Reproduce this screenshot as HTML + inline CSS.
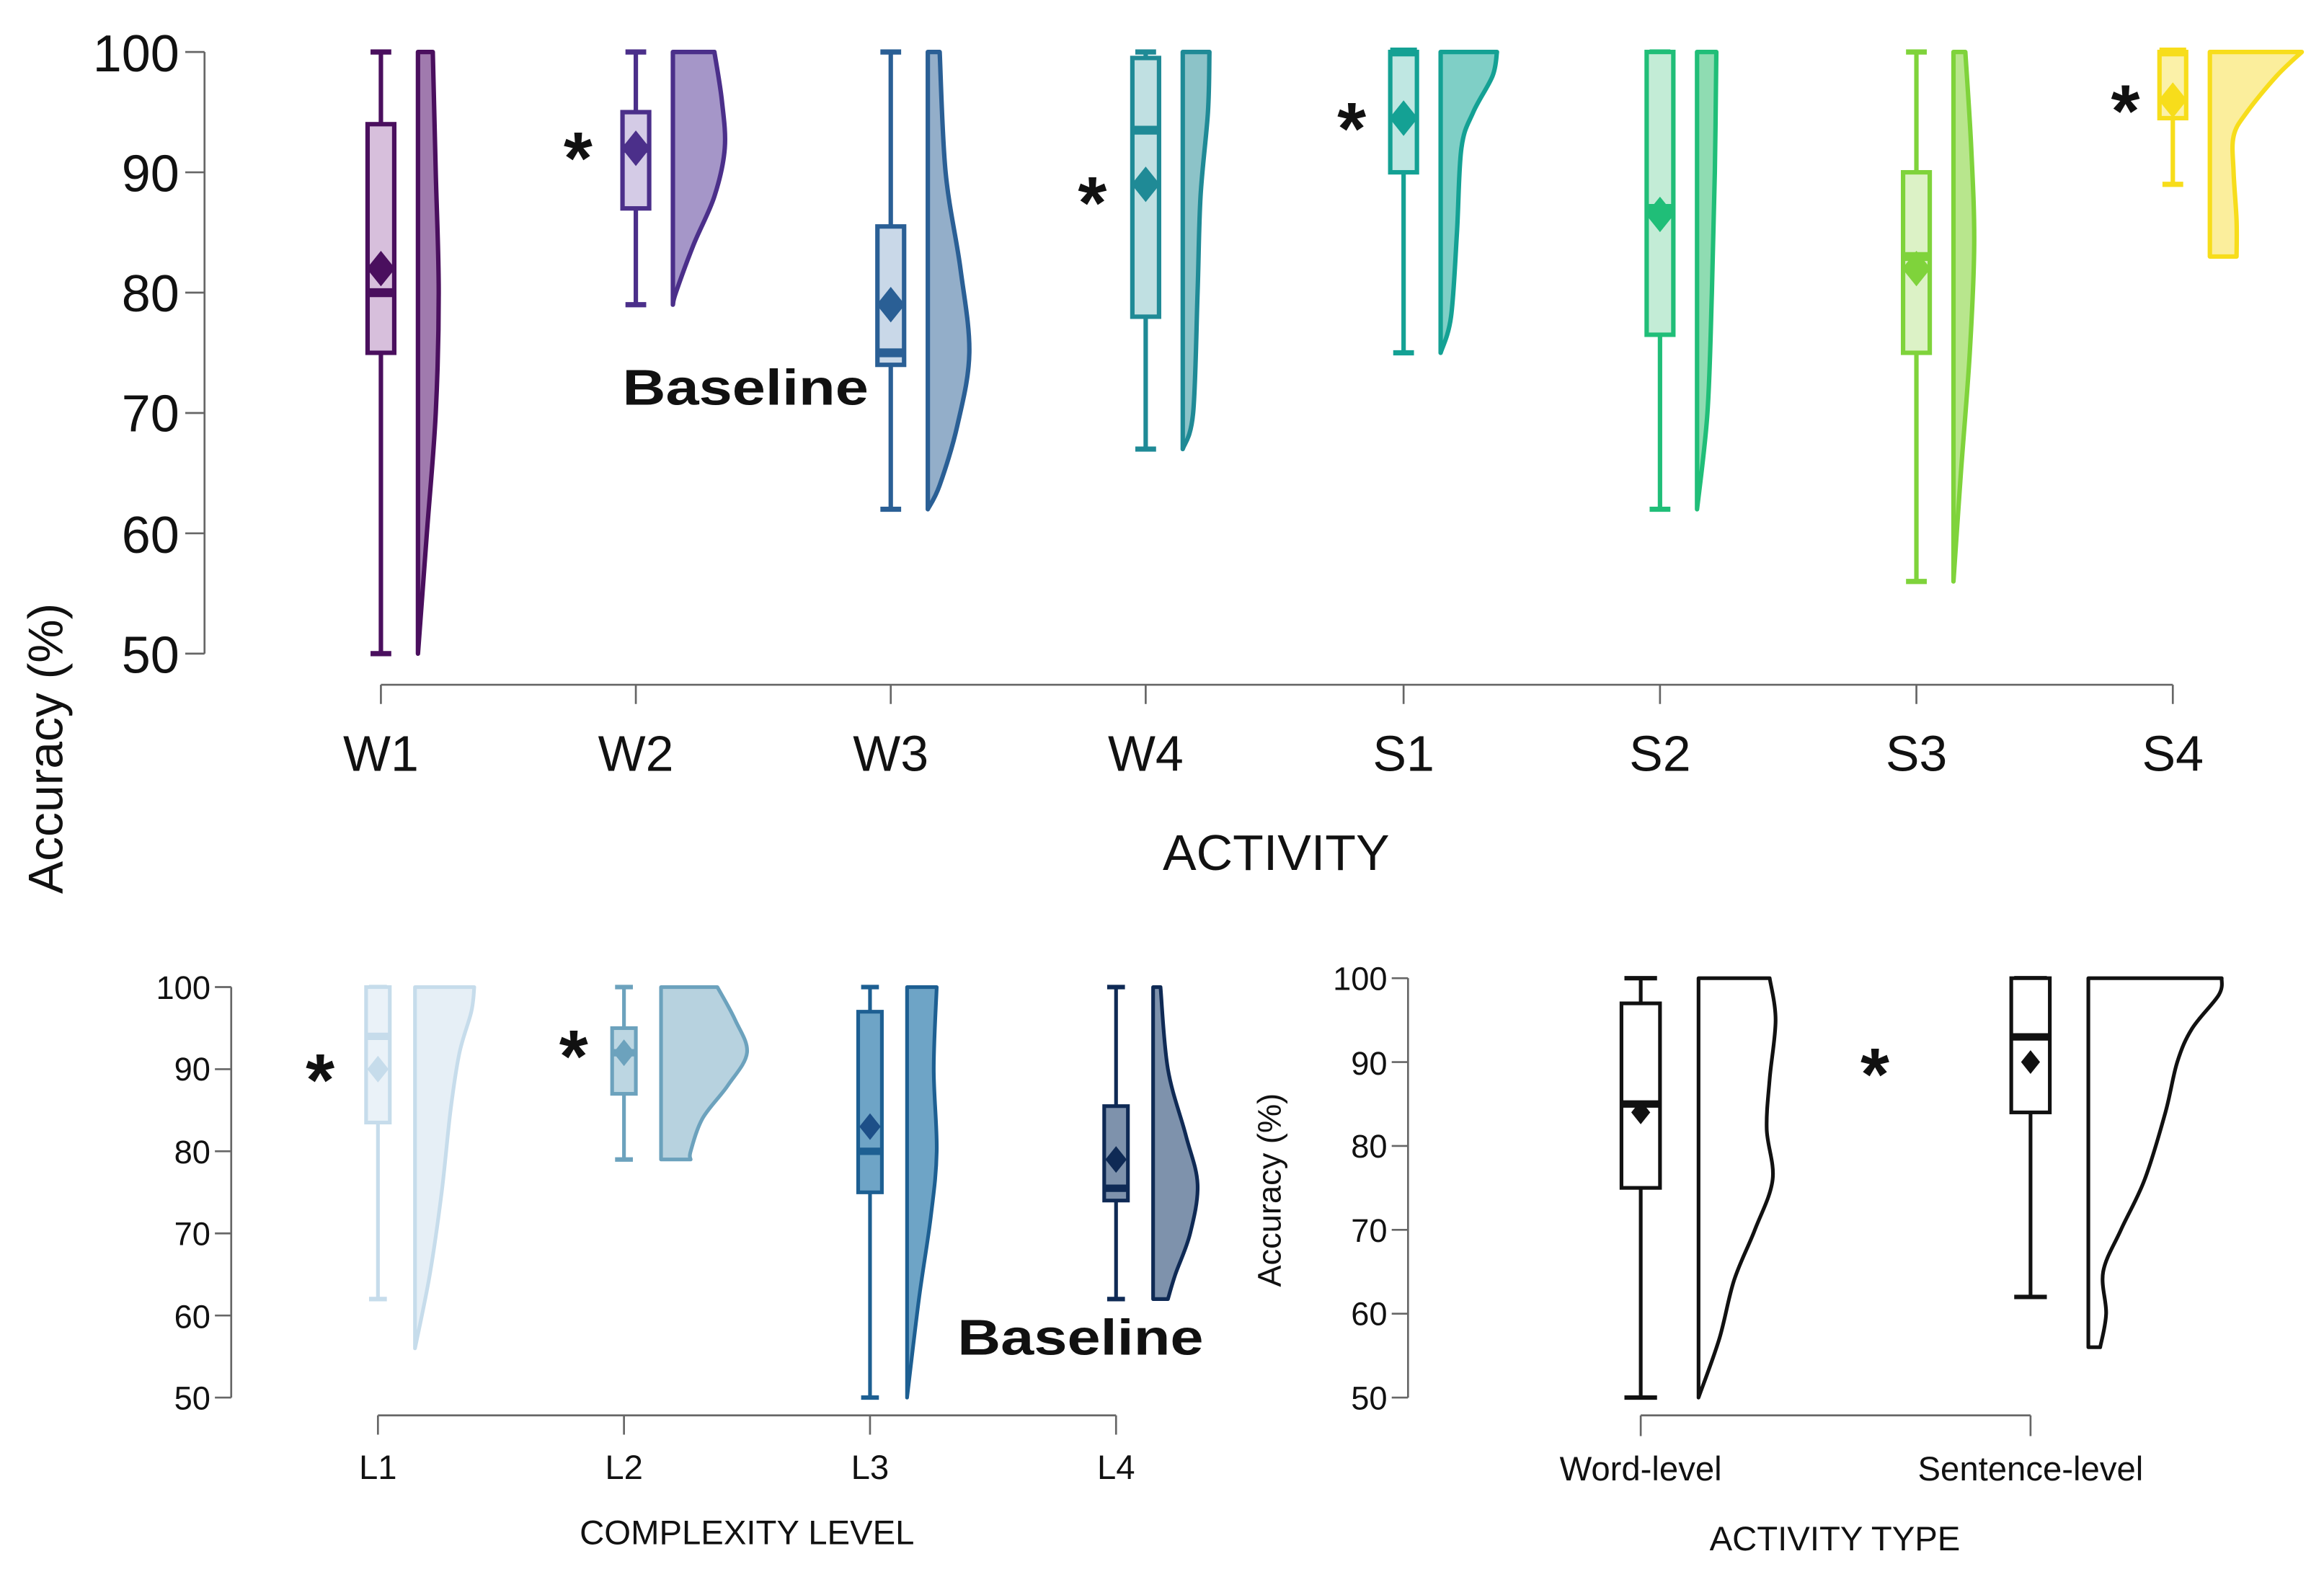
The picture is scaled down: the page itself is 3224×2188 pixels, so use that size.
<!DOCTYPE html>
<html><head><meta charset="utf-8"><style>
html,body{margin:0;padding:0;background:#fff;}
svg{display:block;}
text{font-family:"Liberation Sans",Arial,sans-serif;fill:#111;}
</style></head><body>
<svg id="s" width="3224" height="2188" viewBox="0 0 1568 1064" xmlns="http://www.w3.org/2000/svg">
<rect width="1568" height="1064" fill="#fff"/>
<g id="g"></g>
<g stroke="#666" stroke-width="1.3" fill="none">
<path d="M138 35V441"/>
<path d="M125 35H138M125 116.2H138M125 197.4H138M125 278.6H138M125 359.8H138M125 441H138"/>
<path d="M257 462H1466M257 462V475M429 462V475M601 462V475M773 462V475M947 462V475M1120 462V475M1293 462V475M1466 462V475"/>
<path d="M156 666V943M145 666H156M145 721.4H156M145 776.8H156M145 832.2H156M145 887.6H156M145 943H156"/>
<path d="M255 955H753M255 955V968M421 955V968M587 955V968M753 955V968"/>
<path d="M950 660V943M939 660H950M939 716.6H950M939 773.2H950M939 829.8H950M939 886.4H950M939 943H950"/>
<path d="M1107 955H1370M1107 955V969M1370 955V969"/>
</g>
<g font-size="35" text-anchor="end">
<text x="121" y="48">100</text><text x="121" y="129">90</text><text x="121" y="210">80</text>
<text x="121" y="291">70</text><text x="121" y="373">60</text><text x="121" y="454">50</text>
</g>
<g font-size="34" text-anchor="middle">
<text x="257" y="520">W1</text><text x="429" y="520">W2</text><text x="601" y="520">W3</text><text x="773" y="520">W4</text>
<text x="947" y="520">S1</text><text x="1120" y="520">S2</text><text x="1293" y="520">S3</text><text x="1466" y="520">S4</text>
<text x="861" y="587">ACTIVITY</text>
</g>
<text font-size="33" text-anchor="middle" transform="translate(42 505) rotate(-90)">Accuracy (%)</text>
<g font-size="22" text-anchor="end">
<text x="142" y="674">100</text><text x="142" y="729">90</text><text x="142" y="785">80</text>
<text x="142" y="840">70</text><text x="142" y="896">60</text><text x="142" y="951">50</text>
</g>
<g font-size="23" text-anchor="middle">
<text x="255" y="998">L1</text><text x="421" y="998">L2</text><text x="587" y="998">L3</text><text x="753" y="998">L4</text>
<text x="504" y="1042">COMPLEXITY LEVEL</text>
</g>
<g font-size="22" text-anchor="end">
<text x="936" y="668">100</text><text x="936" y="725">90</text><text x="936" y="781">80</text>
<text x="936" y="838">70</text><text x="936" y="894">60</text><text x="936" y="951">50</text>
</g>
<g font-size="23" text-anchor="middle">
<text x="1107" y="999">Word-level</text><text x="1370" y="999">Sentence-level</text>
<text x="1238" y="1046">ACTIVITY TYPE</text>
</g>
<text font-size="22" text-anchor="middle" transform="translate(864 803) rotate(-90)">Accuracy (%)</text>
<g font-weight="bold">
<text x="420" y="273" font-size="34" textLength="166" lengthAdjust="spacingAndGlyphs">Baseline</text>
<text x="646" y="914" font-size="34" textLength="166" lengthAdjust="spacingAndGlyphs">Baseline</text>
</g>
<g font-weight="bold" font-size="50" text-anchor="middle">
<text x="390" y="124">*</text><text x="737" y="154">*</text><text x="912" y="104">*</text><text x="1434" y="92">*</text>
<text x="216" y="746">*</text><text x="387" y="730">*</text><text x="1265" y="742">*</text>
</g>
</svg>
<script>
(function(){
const g=document.getElementById('g');
function el(t,a){const e=document.createElementNS('http://www.w3.org/2000/svg',t);for(const k in a)e.setAttribute(k,a[k]);g.appendChild(e);return e;}
function draw(o){
 const Y=v=>o.y0-(v-50)*o.k;
 const c=o.cx,w=o.bw/2;
 const vx=c+o.off;
 const pts=o.vio.map(p=>[vx+p[1],Y(p[0])]);
 let d='M'+vx+' '+Y(o.vio[0][0]);
 for(let i=0;i<pts.length;i++){
   if(i==0){d+=' L'+pts[0][0]+' '+pts[0][1];continue;}
   const p0=pts[Math.max(0,i-2)],p1=pts[i-1],p2=pts[i],p3=pts[Math.min(pts.length-1,i+1)];
   d+=' C'+(p1[0]+(p2[0]-p0[0])/6)+' '+(p1[1]+(p2[1]-p0[1])/6)+' '+(p2[0]-(p3[0]-p1[0])/6)+' '+(p2[1]-(p3[1]-p1[1])/6)+' '+p2[0]+' '+p2[1];
 }
 d+=' L'+vx+' '+Y(o.vio[o.vio.length-1][0])+' Z';
 el('path',{d:d,fill:o.vf,stroke:o.col,'stroke-width':o.sw,'stroke-linejoin':'round'});
 el('line',{x1:c,x2:c,y1:Y(o.b[0]),y2:Y(o.b[4]),stroke:o.col,'stroke-width':o.sw});
 el('line',{x1:c-w+2,x2:c+w-2,y1:Y(o.b[0]),y2:Y(o.b[0]),stroke:o.col,'stroke-width':o.sw+0.5});
 el('line',{x1:c-w+2,x2:c+w-2,y1:Y(o.b[4]),y2:Y(o.b[4]),stroke:o.col,'stroke-width':o.sw+0.5});
 el('rect',{x:c-w,y:Y(o.b[3]),width:o.bw,height:Math.max(0.1,Y(o.b[1])-Y(o.b[3])),fill:o.bf,stroke:o.col,'stroke-width':o.sw});
 el('line',{x1:c-w,x2:c+w,y1:Y(o.b[2]),y2:Y(o.b[2]),stroke:o.col,'stroke-width':o.sw*2});
 const m=Y(o.b[5]),r=o.dm;
 el('path',{d:'M'+c+' '+(m-r)+'L'+(c+r*0.8)+' '+m+'L'+c+' '+(m+r)+'L'+(c-r*0.8)+' '+m+'Z',fill:o.dc||o.col});
}
const T={y0:441,k:8.12,bw:18,off:25,sw:3,dm:12};
const tops=[
[257,[50,75,80,94,100,82],'#4a0f5e','#d7bfdc','#a07aae',[[100,10],[90,12],[80,14],[70,12],[60,6],[50,0]]],
[429,[79,87,92,95,100,92],'#4b2f8a','#d4cbe6','#a596c8',[[100,28],[96,33],[92,35],[88,28],[84,14],[80,2],[79,0]]],
[601,[62,74,75,85.5,100,79],'#2a5f95','#c9d8e8','#93aec9',[[100,8],[90,12],[82,22],[75,28],[69,20],[64,8],[62,0]]],
[773,[67,78,93.5,99.5,100,89],'#1f8a96','#c0e0e2','#8cc3c8',[[100,18],[95,17],[88,12],[80,10],[70,7],[67,0]]],
[947,[75,90,100,100,100,94.5],'#14a194','#bfe7e2','#7fcfc6',[[100,38],[98,35],[95,22],[92,14],[85,11],[78,7],[75,0]]],
[1120,[62,76.5,87,100,100,86.5],'#20be78','#c3ecd6','#8fdcb2',[[100,13],[90,12],[80,10],[70,7],[62,0]]],
[1293,[56,75,83,90,100,82],'#7fd33b','#dcf2c6','#b8e68d',[[100,8],[92,12],[84,14],[75,11],[65,5],[56,0]]],
[1466,[89,94.5,100,100,100,96],'#f7dd1b','#fbf1a8','#fbee9c',[[100,62],[98,45],[95,25],[93,16],[90,16],[86,18],[83,18]]]
];
tops.forEach(function(t){draw(Object.assign({},T,{cx:t[0],b:t[1],col:t[2],bf:t[3],vf:t[4],vio:t[5]}));});
const B={y0:943,k:5.54,bw:16,off:25,sw:2.5,dm:9};
const bl=[
[255,[62,83.5,94,100,100,90],'#c6dceb','#eaf2f8','#e6eff6',[[100,40],[97,38],[92,30],[85,24],[75,18],[65,10],[56,0]],'#c6dceb'],
[421,[79,87,92,95,100,92],'#6ca2bd','#bcd6e2','#b7d2df',[[100,38],[96,50],[92,58],[88,45],[84,28],[80,20],[79,20]],'#6ca2bd'],
[587,[50,75,80,97,100,83],'#1d5f92','#6ea4c6','#6ea4c6',[[100,20],[90,18],[80,20],[72,16],[62,8],[50,0]],'#1d4f88'],
[753,[62,74,75.5,85.5,100,79],'#0f2a55','#7e92ac','#7e92ac',[[100,5],[90,10],[82,22],[76,30],[70,25],[65,15],[62,10]],'#0f2a55']
];
bl.forEach(function(t){draw(Object.assign({},B,{cx:t[0],b:t[1],col:t[2],bf:t[3],vf:t[4],vio:t[5],dc:t[6]}));});
const R={y0:943,k:5.66,bw:26,off:39,sw:2.5,dm:8};
draw(Object.assign({},R,{cx:1107,b:[50,75,85,97,100,84],col:'#111',bf:'#fff',vf:'#fff',vio:[[100,48],[95,52],[88,48],[82,46],[76,50],[70,38],[64,24],[57,14],[50,0]]}));
draw(Object.assign({},R,{cx:1370,b:[62,84,93,100,100,90],col:'#111',bf:'#fff',vf:'#fff',vio:[[100,90],[98,88],[94,70],[90,60],[84,52],[76,38],[70,22],[65,10],[60,12],[56,8]]}));
})();
</script>
</body></html>
